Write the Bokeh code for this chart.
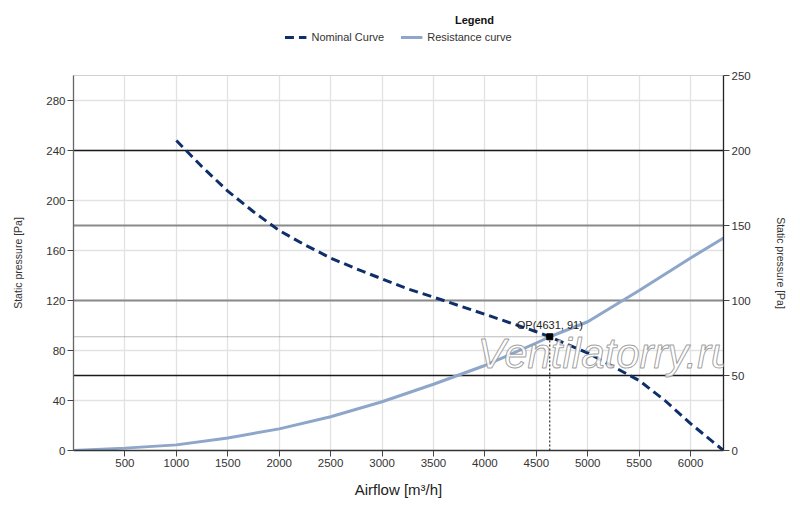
from bokeh.plotting import figure
from bokeh.layouts import column
from bokeh.models import (Range1d, LinearAxis, FixedTicker, Grid, Legend,
                          LegendItem, Label)
from bokeh.embed import file_html
from bokeh.resources import INLINE

# ---- data ----
airflow_nominal = [1000, 1250, 1500, 1750, 2000, 2250, 2500, 2750, 3000, 3250, 3500, 4000,
                   4500, 4631, 5000, 5250, 5500, 5750, 6000, 6320]
pressure_nominal = [248, 227, 207.5, 191, 176, 164.5, 154, 145.3, 137.3, 129.3, 122.7, 109,
                    95, 91, 78, 67, 56, 40, 21.5, 0]

airflow_resist = [0, 500, 1000, 1500, 2000, 2500, 3000, 3500, 4000, 4500, 4631, 5000, 5500, 6000, 6320]
pressure_resist = [0, 1.9, 4.5, 10, 17.3, 27, 39, 53, 68, 86, 91, 103, 128, 154, 170]

op_x = 4631
op_y = 91

x_max = 6320
x_ticks = [500, 1000, 1500, 2000, 2500, 3000, 3500, 4000, 4500, 5000, 5500, 6000]
left_ticks = [0, 40, 80, 120, 160, 200, 240, 280]
right_ticks = [0, 50, 100, 150, 200, 250]
right_dark_lines = [50, 200]
right_gray_lines = [100, 150]

series_names = ["Nominal Curve", "Resistance curve"]
legend_title = "Legend"
axis_y_label = "Static pressure [Pa]"
axis_x_label = "Airflow [m³/h]"
watermark = "Ventilatorry.ru"

FONT = "Liberation Sans"
NAVY = "#0f2f6b"
STEEL = "#8da6c9"
NOM_DASH = "9 5"

# ---------------- main chart ----------------
p = figure(frame_width=650, frame_height=375, x_range=Range1d(0, x_max), y_range=Range1d(0, 300),
           output_backend="svg", toolbar_location=None,
           min_border_left=73, min_border_right=77, min_border_top=10, min_border_bottom=57)
p.background_fill_color = "white"
p.border_fill_color = "white"
p.outline_line_color = "#d0d0d0"

p.extra_y_ranges = {"right": Range1d(0, 250)}

p.xaxis.ticker = FixedTicker(ticks=x_ticks)
p.xaxis.axis_label = axis_x_label
p.xaxis.axis_label_text_font = FONT
p.xaxis.axis_label_text_font_size = "15px"
p.xaxis.axis_label_text_font_style = "normal"
p.xaxis.axis_label_text_color = "#222222"
p.xaxis.axis_label_standoff = 11

p.yaxis.ticker = FixedTicker(ticks=left_ticks)
p.yaxis.axis_label = axis_y_label
p.yaxis.axis_label_text_font = FONT
p.yaxis.axis_label_text_font_size = "10.5px"
p.yaxis.axis_label_text_font_style = "normal"
p.yaxis.axis_label_text_color = "#333333"
p.yaxis.axis_label_standoff = 19

ra = LinearAxis(y_range_name="right", ticker=FixedTicker(ticks=right_ticks),
                axis_label=axis_y_label)
ra.axis_label_text_font = FONT
ra.axis_label_text_font_size = "10.5px"
ra.axis_label_text_font_style = "normal"
ra.axis_label_text_color = "#333333"
ra.axis_label_standoff = 21
p.add_layout(ra, "right")

for ax, col in ((p.xaxis[0], "#333333"), (p.yaxis[0], "#666666"), (ra, "#222222")):
    ax.axis_line_color = col
    ax.axis_line_width = 1.3
    ax.major_tick_line_color = "#444444"
    ax.major_tick_out = 6
    ax.major_tick_in = 0
    ax.minor_tick_line_color = None
    ax.major_label_text_font = FONT
    ax.major_label_text_font_size = "11.5px"
    ax.major_label_text_color = "#333333"
    ax.major_label_standoff = 2

p.xgrid.grid_line_color = "#e2e2e2"
p.xgrid.grid_line_width = 1.3
p.ygrid.ticker = FixedTicker(ticks=left_ticks)
p.ygrid.grid_line_color = "#e2e2e2"
p.ygrid.grid_line_width = 1.3

g1 = Grid(dimension=1, y_range_name="right", ticker=FixedTicker(ticks=right_dark_lines),
          grid_line_color="#1a1a1a", grid_line_width=1.3)
g2 = Grid(dimension=1, y_range_name="right", ticker=FixedTicker(ticks=right_gray_lines),
          grid_line_color="#8a8a8a", grid_line_width=2)
p.add_layout(g1)
p.add_layout(g2)

wm = Label(x=3930, y=78, text=watermark, text_font=FONT, text_font_style="italic",
           text_font_size="42px", text_color="white", text_alpha=0.85,
           text_outline_color="#8f8f8f", text_baseline="alphabetic")
p.add_layout(wm)

r2 = p.line(airflow_resist, pressure_resist, line_color=STEEL, line_width=3)
r1 = p.line(airflow_nominal, pressure_nominal, line_color=NAVY, line_width=3, line_dash=NOM_DASH)

p.line([0, op_x], [op_y, op_y], line_color="#777777", line_dash="1 1", line_width=1)
p.line([op_x, op_x], [0, op_y], line_color="black", line_dash="2 2", line_width=1)
p.scatter([op_x], [op_y], marker="square", size=6, color="black")
p.add_layout(Label(x=op_x, y=op_y, text=f"OP({op_x}, {op_y})", text_align="center",
                   text_baseline="bottom", y_offset=6, text_font=FONT,
                   text_font_size="11px", text_color="#222222"))

# ---------------- legend strip ----------------
# ranges chosen so the series (all >= 0) fall outside this strip; only legend glyphs show
lg = figure(width=800, height=65, x_range=Range1d(-2, -1), y_range=Range1d(-2, -1),
            output_backend="svg", toolbar_location=None,
            x_axis_location=None, y_axis_location=None,
            min_border_left=0, min_border_right=0, min_border_top=0, min_border_bottom=0)
lg.grid.visible = False
lg.outline_line_color = None
lg.border_fill_color = "white"
lg.background_fill_color = "white"

k1 = lg.line(airflow_nominal, pressure_nominal, line_color=NAVY, line_width=3, line_dash=NOM_DASH)
k2 = lg.line(airflow_resist, pressure_resist, line_color=STEEL, line_width=3)
legend = Legend(items=[LegendItem(label=series_names[0], renderers=[k1]),
                       LegendItem(label=series_names[1], renderers=[k2])],
                orientation="horizontal", location="top_center",
                border_line_color=None, background_fill_alpha=0,
                label_text_font=FONT, label_text_font_size="11px",
                label_text_color="#333333", glyph_width=22, glyph_height=14,
                label_height=14, spacing=16, padding=0, margin=30, label_standoff=5)
lg.add_layout(legend)
lg.add_layout(Label(x=401, y=46, x_units="screen", y_units="screen", text=legend_title,
                    text_align="center", text_baseline="middle", text_font=FONT,
                    text_font_style="bold", text_font_size="11px", text_color="#111111"))

open("out.html", "w").write(file_html(column(lg, p, spacing=0), INLINE))
